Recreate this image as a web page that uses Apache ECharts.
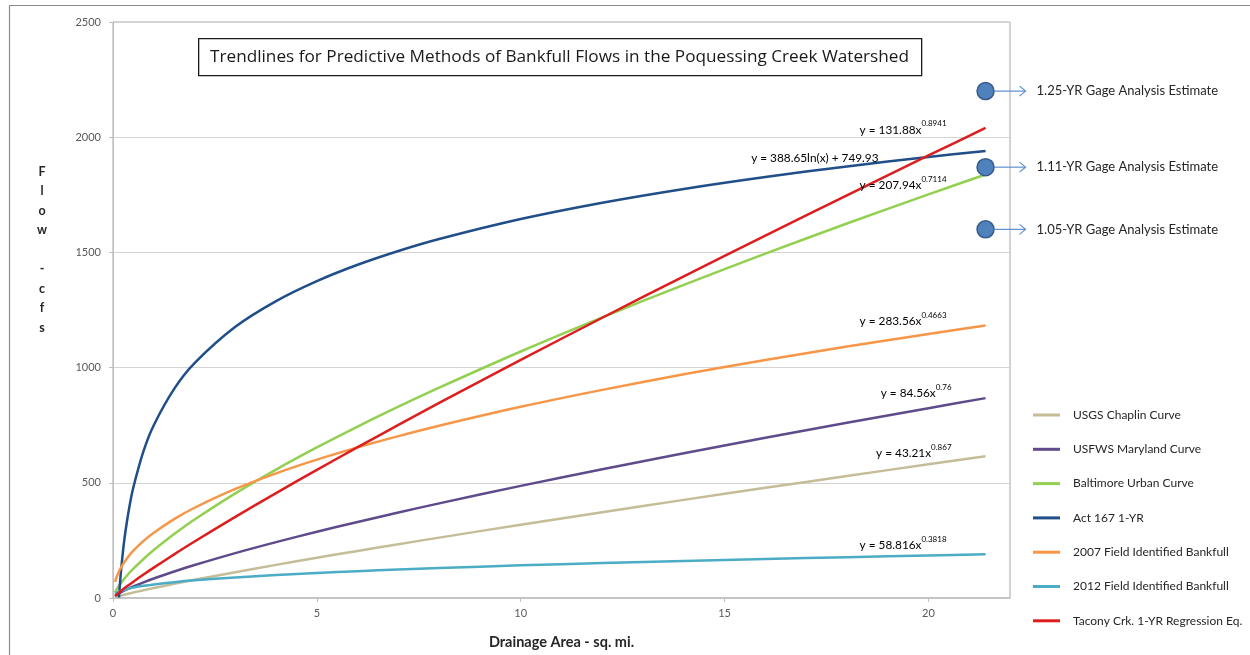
<!DOCTYPE html>
<html>
<head>
<meta charset="utf-8">
<title>Bankfull Flow Trendlines</title>
<script src="https://cdn.jsdelivr.net/npm/echarts@6/dist/echarts.min.js"></script>
<style>
  html, body { margin: 0; padding: 0; background: #fff; }
  #chart { width: 1250px; height: 655px; }
</style>
</head>
<body>
<div id="chart"></div>
<script>
// Drainage area (sq. mi.) sample points shared by the power-law trendlines
const areaSqMi = [0.05, 0.1, 0.2, 0.35, 0.5, 0.75, 1, 1.5, 2, 3, 4, 5, 6, 7, 8, 10, 12, 14, 16, 18, 20, 21.4];

// Flow (cfs) along each trendline
const usgsChaplin   = [3.22, 5.87, 10.70, 17.39, 23.69, 33.67, 43.21, 61.42, 78.81, 112.0, 143.7, 174.4, 204.3, 233.5, 262.1, 318.1, 372.6, 425.9, 478.1, 529.6, 580.2, 615.3];
const usfwsMaryland = [8.68, 14.69, 24.89, 38.08, 49.93, 67.95, 84.56, 115.1, 143.2, 194.9, 242.5, 287.3, 330.1, 371.1, 410.7, 486.6, 558.9, 628.4, 695.5, 760.6, 824.0, 867.5];
const baltimoreUrban = [24.68, 40.41, 66.18, 98.54, 127.0, 169.4, 207.94, 277.5, 340.5, 454.3, 557.5, 653.4, 743.9, 830.1, 912.8, 1069.9, 1218.1, 1359.2, 1494.7, 1625.3, 1751.7, 1838.2];
const field2007     = [70.14, 96.90, 133.9, 173.8, 205.3, 247.9, 283.56, 342.6, 391.7, 473.3, 541.2, 600.6, 653.9, 702.6, 747.7, 829.8, 903.4, 970.7, 1033.1, 1091.4, 1146.3, 1183.1];
const field2012     = [18.74, 24.42, 31.81, 39.39, 45.14, 52.70, 58.82, 68.66, 76.63, 89.46, 99.85, 108.7, 116.6, 123.6, 130.1, 141.7, 151.9, 161.1, 169.5, 177.3, 184.6, 189.4];
const taconyCrk     = [9.06, 16.83, 31.28, 51.59, 70.96, 101.97, 131.88, 189.5, 245.1, 352.2, 455.5, 556.1, 654.5, 751.2, 846.5, 1033.5, 1216.4, 1396.2, 1573.2, 1748.0, 1920.6, 2040.4];

// Act 167 logarithmic trendline has its own sample points (starts where flow reaches 0)
const act167Area = [0.146, 0.17, 0.2, 0.25, 0.3, 0.4, 0.5, 0.75, 1, 1.5, 2, 3, 4, 5, 6, 7, 8, 10, 12, 14, 16, 18, 20, 21.4];
const act167Flow = [2.1, 61.2, 124.4, 211.1, 282.0, 393.8, 480.5, 638.1, 749.9, 907.5, 1019.3, 1176.9, 1288.7, 1375.4, 1446.3, 1506.2, 1558.1, 1644.8, 1715.7, 1775.6, 1827.5, 1873.3, 1914.2, 1940.5];

// Gage analysis estimates
const gageArea   = [21.4, 21.4, 21.4];
const gageFlow   = [2200, 1870, 1600];
const gageLabels = ['1.25-YR Gage Analysis Estimate', '1.11-YR Gage Analysis Estimate', '1.05-YR Gage Analysis Estimate'];

// Axis ticks
const xTicks = [0, 5, 10, 15, 20];
const yTicks = [0, 500, 1000, 1500, 2000, 2500];

const seriesNames = [
  'USGS Chaplin Curve',
  'USFWS Maryland Curve',
  'Baltimore Urban Curve',
  'Act 167 1-YR',
  '2007 Field Identified Bankfull',
  '2012 Field Identified Bankfull',
  'Tacony Crk. 1-YR Regression Eq.'
];
const seriesColors = ['#c4bd97', '#5f4a8b', '#92d050', '#1f4e89', '#f79646', '#4bacc6', '#dc1e1e'];

// Trendline equations: [base, exponent]
const equations = [
  ['y = 43.21x', '0.867'],
  ['y = 84.56x', '0.76'],
  ['y = 207.94x', '0.7114'],
  ['y = 388.65ln(x) + 749.93', ''],
  ['y = 283.56x', '0.4663'],
  ['y = 58.816x', '0.3818'],
  ['y = 131.88x', '0.8941']
];

const FONT = 'Lato, "Open Sans", sans-serif';
const TITLE_FONT = '"Open Sans", Lato, sans-serif';

function zip(xs, ys) { return xs.map((x, i) => [x, ys[i]]); }

const curves = [
  zip(areaSqMi, usgsChaplin),
  zip(areaSqMi, usfwsMaryland),
  zip(areaSqMi, baltimoreUrban),
  zip(act167Area, act167Flow),
  zip(areaSqMi, field2007),
  zip(areaSqMi, field2012),
  zip(areaSqMi, taconyCrk)
];

// Pixel offsets of each equation label from its line's end point
const eqOffsets = [[-34, -5], [-34, -7], [-39, 9], [-107, 5], [-39, -6], [-39, -11], [-39, 0]];

const lineSeries = curves.map((data, i) => ({
  name: seriesNames[i],
  type: 'line',
  data: data,
  smooth: 0.3,
  showSymbol: false,
  lineStyle: { color: seriesColors[i], width: 2.5 },
  itemStyle: { color: seriesColors[i] },
  z: 3
}));

const eqSeries = {
  type: 'custom',
  name: 'equations',
  silent: true,
  clip: false,
  data: curves.map(c => c[c.length - 1]),
  renderItem: function (params, api) {
    const i = params.dataIndex;
    const p = api.coord([api.value(0), api.value(1)]);
    const eq = equations[i];
    const text = eq[1] ? '{a|' + eq[0] + '}{b|' + eq[1] + '}' : '{a|' + eq[0] + '}';
    return {
      type: 'text',
      x: p[0] + eqOffsets[i][0],
      y: p[1] + eqOffsets[i][1],
      style: {
        text: text,
        align: 'right',
        verticalAlign: 'middle',
        rich: {
          a: { fontFamily: FONT, fontSize: 11.8, color: '#404040', lineHeight: 16, verticalAlign: 'bottom' },
          b: { fontFamily: FONT, fontSize: 8, color: '#404040', lineHeight: 16, verticalAlign: 'top', padding: [0, 0, 6, 0] }
        }
      },
      z2: 10
    };
  },
  z: 5
};

const gageSeries = {
  type: 'custom',
  name: 'gage',
  silent: true,
  clip: false,
  data: zip(gageArea, gageFlow),
  renderItem: function (params, api) {
    const p = api.coord([api.value(0), api.value(1)]);
    const cx = p[0], cy = p[1];
    const arrowColor = '#5b8fd0';
    return {
      type: 'group',
      children: [
        { type: 'circle', shape: { cx: cx, cy: cy, r: 8.5 }, style: { fill: '#4f81bd', stroke: '#385d8a', lineWidth: 1.5 } },
        { type: 'line', shape: { x1: cx + 9, y1: cy, x2: cx + 40, y2: cy }, style: { stroke: arrowColor, lineWidth: 1.2 } },
        { type: 'polyline', shape: { points: [[cx + 34, cy - 5], [cx + 40, cy], [cx + 34, cy + 5]] }, style: { stroke: arrowColor, lineWidth: 1.2, fill: null } },
        { type: 'text', x: cx + 51, y: cy, style: { text: gageLabels[params.dataIndex], fontFamily: FONT, fontSize: 13, fill: '#262626', verticalAlign: 'middle', align: 'left' } }
      ]
    };
  },
  z: 6
};

const chart = echarts.init(document.getElementById('chart'), null, { renderer: 'canvas' });

chart.setOption({
  animation: false,
  backgroundColor: '#ffffff',
  textStyle: { fontFamily: FONT },
  grid: { left: 113, top: 22, right: 240, bottom: 47, show: true, borderColor: '#a6a6a6', borderWidth: 1 },
  xAxis: {
    type: 'value',
    min: 0,
    max: 22,
    interval: 5,
    name: 'Drainage Area - sq. mi.',
    nameLocation: 'middle',
    nameGap: 37,
    nameTextStyle: { fontFamily: FONT, fontSize: 14.5, fontWeight: 'bold', color: '#262626' },
    axisLine: { show: true, lineStyle: { color: '#bfbfbf', width: 1.5 } },
    axisTick: { show: true, length: 4, lineStyle: { color: '#bfbfbf' }, customValues: xTicks },
    axisLabel: { color: '#595959', fontSize: 11, margin: 10, fontFamily: FONT, customValues: xTicks },
    splitLine: { show: false }
  },
  yAxis: {
    type: 'value',
    min: 0,
    max: 2500,
    interval: 500,
    axisLine: { show: true, lineStyle: { color: '#bfbfbf', width: 1 } },
    axisTick: { show: true, length: 4, lineStyle: { color: '#bfbfbf' }, customValues: yTicks },
    axisLabel: { color: '#595959', fontSize: 11, margin: 12, fontFamily: FONT, customValues: yTicks, formatter: v => String(v) },
    splitLine: { show: true, lineStyle: { color: '#d4d4d4', width: 1.2 } }
  },
  legend: {
    orient: 'vertical',
    left: 1028,
    top: 404,
    itemWidth: 27,
    itemHeight: 3,
    itemGap: 22.3,
    icon: 'rect',
    data: seriesNames,
    textStyle: { fontFamily: FONT, fontSize: 12, color: '#262626', padding: [0, 0, 0, 8] },
    selectedMode: false
  },
  graphic: [
    { type: 'rect', left: 7, top: 3, shape: { width: 1300, height: 700 }, style: { fill: null, stroke: '#8c8c8c', lineWidth: 1.2 }, silent: true, z: 0 },
    { type: 'rect', left: 198, top: 38, shape: { width: 723, height: 37 }, style: { fill: '#ffffff', stroke: '#1a1a1a', lineWidth: 1.3 }, z: 10 },
    { type: 'text', x: 559.5, y: 57, style: { text: 'Trendlines for Predictive Methods of Bankfull Flows in the Poquessing Creek Watershed', fontFamily: TITLE_FONT, fontSize: 17.2, fill: '#1a1a1a', align: 'center', verticalAlign: 'middle' }, z: 11 },
    { type: 'text', x: 42, y: 162, style: { text: 'F\nl\no\nw\n\n-\nc\nf\ns', fontFamily: FONT, fontSize: 12.5, fontWeight: 'bold', fill: '#262626', align: 'center', verticalAlign: 'top', lineHeight: 19.5 }, z: 10 }
  ],
  series: lineSeries.concat([eqSeries, gageSeries])
});
</script>
</body>
</html>
